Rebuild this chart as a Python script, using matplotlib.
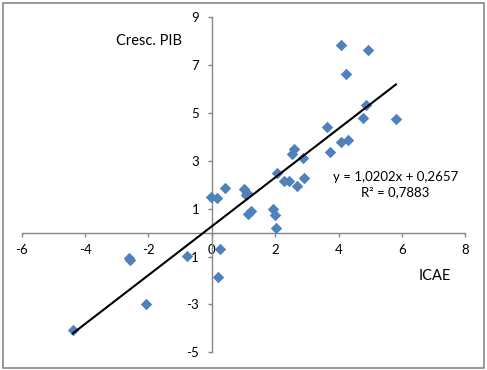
import matplotlib.pyplot as plt
from matplotlib.patches import Rectangle

# ICAE (x) vs crescimento do PIB (y)
icae = [4.08, 4.93, 4.23, 4.88, 4.76, 5.81, 3.65, 4.09, 4.30, 3.73,
        2.58, 2.53, 2.88, 2.90, 2.69, 2.05, 2.28, 2.43, 1.94, 1.98,
        2.04, 1.01, 1.11, 1.09, 1.14, 1.25, 0.41, -0.03, 0.15, 0.27,
        0.21, -0.77, -2.60, -2.58, -2.08, -4.39]
pib = [7.86, 7.62, 6.64, 5.35, 4.78, 4.75, 4.43, 3.77, 3.87, 3.36,
       3.50, 3.30, 3.13, 2.30, 1.95, 2.49, 2.14, 2.16, 0.97, 0.75,
       0.18, 1.81, 1.66, 1.56, 0.78, 0.91, 1.88, 1.49, 1.45, -0.70,
       -1.84, -0.96, -1.04, -1.14, -2.98, -4.05]

# linear trend shown on the chart
slope = 1.0202
intercept = 0.2657
r2 = 0.7883

x_ticks = [-6, -4, -2, 0, 2, 4, 6, 8]
y_ticks = [-5, -3, -1, 1, 3, 5, 7, 9]

plt.rcParams['font.family'] = ['Lato', 'DejaVu Sans']
plt.rcParams['axes.unicode_minus'] = False

fig = plt.figure(figsize=(4.87, 3.70), dpi=100)
fig.patches.append(Rectangle((2.5 / 487, 2.5 / 370), 481.5 / 487, 365 / 370,
                             transform=fig.transFigure, fill=False,
                             edgecolor='#878787', linewidth=1.2))
ax = fig.add_axes([21.7 / 487, 1 - 352.3 / 370, 443.6 / 487, 335 / 370])

ax.scatter(icae, pib, marker='D', s=34, color='#4F81BD', linewidths=0, zorder=3)

x_line = [min(icae), max(icae)]
y_line = [slope * v + intercept for v in x_line]
ax.plot(x_line, y_line, color='black', linewidth=1.5, zorder=4)

ax.set_xlim(-6, 8)
ax.set_ylim(-5, 9)
ax.set_xticks(x_ticks)
ax.set_yticks(y_ticks)

# axes cross at the origin, like Excel
ax.spines['left'].set_position(('data', 0))
ax.spines['bottom'].set_position(('data', 0))
ax.spines['right'].set_visible(False)
ax.spines['top'].set_visible(False)
for s in ['left', 'bottom']:
    ax.spines[s].set_color('#868686')
    ax.spines[s].set_linewidth(1)
ax.tick_params(axis='both', direction='out', length=3, width=1, color='#868686',
               labelsize=9.5, labelcolor='black')
ax.tick_params(axis='x', pad=5)
ax.tick_params(axis='y', pad=6)
ax.patch.set_alpha(0)

ax.text(-0.95, 8.0, 'Cresc. PIB', fontsize=10.5, ha='right', va='center')
ax.text(7.55, -1.8, 'ICAE', fontsize=10.5, ha='right', va='center')

eq = 'y = ' + f'{slope:.4f}'.replace('.', ',') + 'x + ' + f'{intercept:.4f}'.replace('.', ',')
r2_text = 'R² = ' + f'{r2:.4f}'.replace('.', ',')
ax.text(5.8, 2.33, eq, fontsize=9.5, ha='center', va='center')
ax.text(5.8, 1.7, r2_text, fontsize=9.5, ha='center', va='center')

fig.savefig('out.png', dpi=100)
